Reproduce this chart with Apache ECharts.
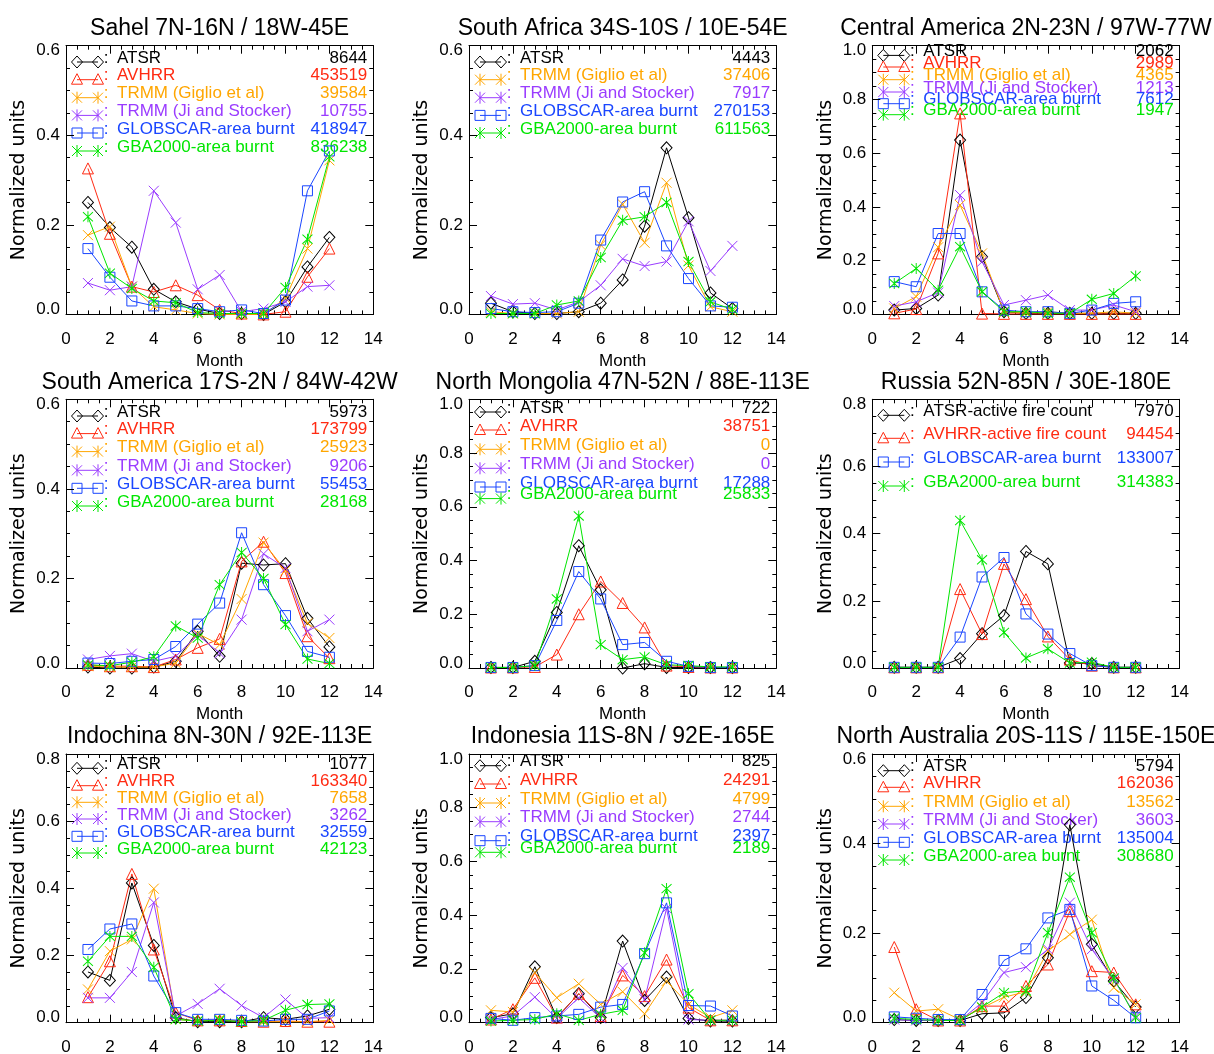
<!DOCTYPE html>
<html>
<head>
<meta charset="utf-8">
<script src="https://cdn.jsdelivr.net/npm/echarts@6/dist/echarts.min.js"></script>
<style>
  html, body { margin: 0; padding: 0; background: #ffffff; }
  #chart { width: 1214px; height: 1054px; }
</style>
</head>
<body>
<div id="chart"></div>
<script>
// Months on the x axis
const MONTHS = [1, 2, 3, 4, 5, 6, 7, 8, 9, 10, 11, 12];

// Sahel 7N-16N / 18W-45E
const sahelATSR     = [0.250, 0.194, 0.150, 0.056, 0.028, 0.012, 0.002, 0.002, 0.000, 0.028, 0.106, 0.172];
const sahelAVHRR    = [0.326, 0.180, 0.062, 0.050, 0.065, 0.043, 0.010, 0.002, 0.000, 0.006, 0.084, 0.147];
const sahelTRMMG    = [0.177, 0.196, 0.062, 0.017, 0.010, 0.002, 0.000, 0.000, 0.000, 0.036, 0.147, 0.344];
const sahelTRMMJ    = [0.070, 0.054, 0.062, 0.276, 0.205, 0.056, 0.088, 0.006, 0.013, 0.028, 0.062, 0.065];
const sahelGLOBSCAR = [0.147, 0.083, 0.030, 0.019, 0.019, 0.013, 0.006, 0.010, 0.002, 0.032, 0.276, 0.365];
const sahelGBA      = [0.218, 0.092, 0.058, 0.030, 0.026, 0.004, 0.002, 0.002, 0.002, 0.060, 0.168, 0.352];
const sahelCounts   = [8644, 453519, 39584, 10755, 418947, 836238];

// South Africa 34S-10S / 10E-54E (no AVHRR)
const safATSR     = [0.025, 0.006, 0.002, 0.002, 0.006, 0.025, 0.077, 0.197, 0.372, 0.216, 0.048, 0.013];
const safTRMMG    = [0.006, 0.002, 0.002, 0.002, 0.006, 0.155, 0.246, 0.160, 0.294, 0.109, 0.017, 0.006];
const safTRMMJ    = [0.041, 0.023, 0.025, 0.010, 0.028, 0.065, 0.124, 0.108, 0.118, 0.208, 0.097, 0.153];
const safGLOBSCAR = [0.013, 0.006, 0.004, 0.006, 0.025, 0.166, 0.251, 0.274, 0.153, 0.080, 0.019, 0.016];
const safGBA      = [0.002, 0.002, 0.002, 0.021, 0.030, 0.127, 0.210, 0.218, 0.250, 0.118, 0.028, 0.011];
const safCounts   = [4443, 37406, 7917, 270153, 611563];

// Central America 2N-23N / 97W-77W
const camATSR     = [0.016, 0.022, 0.072, 0.649, 0.215, 0.010, 0.004, 0.004, 0.004, 0.004, 0.004, 0.004];
const camAVHRR    = [0.004, 0.020, 0.227, 0.748, 0.003, 0.002, 0.002, 0.002, 0.002, 0.002, 0.002, 0.002];
const camTRMMG    = [0.022, 0.066, 0.250, 0.407, 0.227, 0.010, 0.006, 0.010, 0.004, 0.004, 0.010, 0.004];
const camTRMMJ    = [0.031, 0.047, 0.081, 0.444, 0.196, 0.035, 0.053, 0.072, 0.016, 0.016, 0.035, 0.010];
const camGLOBSCAR = [0.122, 0.103, 0.301, 0.301, 0.084, 0.016, 0.010, 0.010, 0.004, 0.016, 0.041, 0.047];
const camGBA      = [0.115, 0.171, 0.090, 0.252, 0.084, 0.010, 0.010, 0.004, 0.004, 0.056, 0.078, 0.143];
const camCounts   = [2062, 2989, 4365, 1213, 7612, 1947];

// South America 17S-2N / 84W-42W
const samATSR     = [0.002, 0.000, 0.000, 0.002, 0.015, 0.082, 0.026, 0.234, 0.230, 0.233, 0.111, 0.047];
const samAVHRR    = [0.007, 0.004, 0.004, 0.002, 0.019, 0.045, 0.065, 0.238, 0.282, 0.212, 0.071, 0.022];
const samTRMMG    = [0.004, 0.002, 0.002, 0.002, 0.011, 0.077, 0.052, 0.154, 0.280, 0.218, 0.100, 0.067];
const samTRMMJ    = [0.019, 0.027, 0.032, 0.015, 0.026, 0.074, 0.033, 0.108, 0.255, 0.223, 0.082, 0.108];
const samGLOBSCAR = [0.011, 0.010, 0.015, 0.019, 0.048, 0.098, 0.145, 0.302, 0.186, 0.117, 0.037, 0.024];
const samGBA      = [0.007, 0.005, 0.013, 0.025, 0.094, 0.067, 0.186, 0.258, 0.200, 0.097, 0.020, 0.010];
const samCounts   = [5973, 173799, 25923, 9206, 55453, 28168];

// North Mongolia 47N-52N / 88E-113E (no TRMM detections)
const mngATSR     = [0.002, 0.002, 0.025, 0.207, 0.455, 0.291, 0.000, 0.016, 0.002, 0.002, 0.002, 0.002];
const mngAVHRR    = [0.002, 0.002, 0.004, 0.050, 0.200, 0.322, 0.242, 0.151, 0.009, 0.004, 0.002, 0.002];
const mngGLOBSCAR = [0.002, 0.002, 0.009, 0.177, 0.359, 0.257, 0.087, 0.095, 0.025, 0.006, 0.002, 0.002];
const mngGBA      = [0.002, 0.002, 0.009, 0.257, 0.566, 0.087, 0.031, 0.041, 0.012, 0.009, 0.004, 0.004];
const mngCounts   = [722, 38751, 0, 0, 17288, 25833];

// Russia 52N-85N / 30E-180E
const rusATSR     = [0.002, 0.002, 0.002, 0.028, 0.102, 0.156, 0.347, 0.310, 0.015, 0.013, 0.002, 0.002];
const rusAVHRR    = [0.002, 0.002, 0.002, 0.235, 0.101, 0.310, 0.205, 0.094, 0.025, 0.007, 0.002, 0.002];
const rusGLOBSCAR = [0.002, 0.002, 0.002, 0.092, 0.271, 0.329, 0.161, 0.101, 0.043, 0.007, 0.002, 0.002];
const rusGBA      = [0.002, 0.002, 0.002, 0.439, 0.322, 0.106, 0.030, 0.057, 0.015, 0.017, 0.002, 0.002];
const rusCounts   = [7970, 94454, 133007, 314383];

// Indochina 8N-30N / 92E-113E
const indATSR     = [0.151, 0.126, 0.416, 0.230, 0.015, 0.003, 0.003, 0.003, 0.015, 0.010, 0.020, 0.040];
const indAVHRR    = [0.076, 0.183, 0.443, 0.218, 0.030, 0.007, 0.007, 0.005, 0.003, 0.005, 0.003, 0.003];
const indTRMMG    = [0.099, 0.213, 0.248, 0.399, 0.010, 0.005, 0.010, 0.003, 0.003, 0.003, 0.003, 0.007];
const indTRMMJ    = [0.074, 0.074, 0.151, 0.358, 0.020, 0.056, 0.101, 0.051, 0.015, 0.069, 0.013, 0.015];
const indGLOBSCAR = [0.218, 0.279, 0.294, 0.139, 0.030, 0.010, 0.010, 0.007, 0.005, 0.010, 0.010, 0.035];
const indGBA      = [0.183, 0.257, 0.257, 0.165, 0.010, 0.005, 0.007, 0.003, 0.007, 0.037, 0.054, 0.056];
const indCounts   = [1077, 163340, 7658, 3262, 32559, 42123];

// Indonesia 11S-8N / 92E-165E
const idnATSR     = [0.019, 0.033, 0.208, 0.019, 0.108, 0.019, 0.304, 0.083, 0.170, 0.016, 0.006, 0.006];
const idnAVHRR    = [0.012, 0.050, 0.167, 0.019, 0.108, 0.025, 0.176, 0.099, 0.235, 0.056, 0.009, 0.009];
const idnTRMMG    = [0.046, 0.040, 0.186, 0.093, 0.145, 0.068, 0.115, 0.033, 0.155, 0.068, 0.019, 0.046];
const idnTRMMJ    = [0.012, 0.025, 0.095, 0.016, 0.093, 0.016, 0.204, 0.087, 0.425, 0.012, 0.009, 0.009];
const idnGLOBSCAR = [0.016, 0.009, 0.019, 0.025, 0.031, 0.058, 0.068, 0.257, 0.446, 0.064, 0.062, 0.025];
const idnGBA      = [0.006, 0.009, 0.012, 0.033, 0.009, 0.031, 0.046, 0.260, 0.499, 0.108, 0.009, 0.009];
const idnCounts   = [825, 24291, 4799, 2744, 2397, 2189];

// North Australia 20S-11S / 115E-150E
const nauATSR     = [0.007, 0.005, 0.005, 0.005, 0.020, 0.022, 0.056, 0.145, 0.442, 0.175, 0.093, 0.035];
const nauAVHRR    = [0.169, 0.030, 0.005, 0.005, 0.037, 0.037, 0.082, 0.130, 0.249, 0.115, 0.112, 0.041];
const nauTRMMG    = [0.067, 0.026, 0.030, 0.007, 0.033, 0.057, 0.069, 0.160, 0.197, 0.230, 0.078, 0.041];
const nauTRMMJ    = [0.007, 0.005, 0.005, 0.005, 0.045, 0.112, 0.124, 0.164, 0.268, 0.164, 0.097, 0.015];
const nauGLOBSCAR = [0.013, 0.010, 0.007, 0.007, 0.063, 0.139, 0.165, 0.234, 0.253, 0.082, 0.050, 0.011];
const nauGBA      = [0.010, 0.007, 0.005, 0.005, 0.035, 0.067, 0.071, 0.201, 0.325, 0.201, 0.100, 0.011];
const nauCounts   = [5794, 162036, 13562, 3603, 135004, 308680];

// Region titles and y-axis upper limits
const regionTitles = [
  'Sahel 7N-16N / 18W-45E',
  'South Africa 34S-10S / 10E-54E',
  'Central America 2N-23N / 97W-77W',
  'South America 17S-2N / 84W-42W',
  'North Mongolia 47N-52N / 88E-113E',
  'Russia 52N-85N / 30E-180E',
  'Indochina 8N-30N / 92E-113E',
  'Indonesia 11S-8N / 92E-165E',
  'North Australia 20S-11S / 115E-150E'
];
const yMaxima = [0.6, 0.6, 1.0, 0.6, 1.0, 0.8, 0.8, 1.0, 0.6];
const xTickValues = [0, 14, 2]; // min, max, step

// Data sources: colour and marker style
const SOURCES = {
  ATSR:     { label: 'ATSR',                  color: '#000000', mark: 'diamond',  legendMark: 'diamond' },
  AVHRR:    { label: 'AVHRR',                 color: '#ff2a12', mark: 'triangle', legendMark: 'triangle' },
  TRMMG:    { label: 'TRMM (Giglio et al)',   color: '#ffa600', mark: 'cross',    legendMark: 'asterisk' },
  TRMMJ:    { label: 'TRMM (Ji and Stocker)', color: '#9a3cff', mark: 'cross',    legendMark: 'asterisk' },
  GLOBSCAR: { label: 'GLOBSCAR-area burnt',   color: '#1a46ff', mark: 'square',   legendMark: 'square' },
  GBA:      { label: 'GBA2000-area burnt',    color: '#00e600', mark: 'asterisk', legendMark: 'asterisk' },
  ATSRfire: { label: 'ATSR-active fire count',  color: '#000000', mark: 'diamond',  legendMark: 'diamond' },
  AVHRRfire:{ label: 'AVHRR-active fire count', color: '#ff2a12', mark: 'triangle', legendMark: 'triangle' }
};

const ALL6 = ['ATSR', 'AVHRR', 'TRMMG', 'TRMMJ', 'GLOBSCAR', 'GBA'];
const panels = [
  { keys: ALL6, values: [sahelATSR, sahelAVHRR, sahelTRMMG, sahelTRMMJ, sahelGLOBSCAR, sahelGBA], counts: sahelCounts },
  { keys: ['ATSR', 'TRMMG', 'TRMMJ', 'GLOBSCAR', 'GBA'], values: [safATSR, safTRMMG, safTRMMJ, safGLOBSCAR, safGBA], counts: safCounts },
  { keys: ALL6, values: [camATSR, camAVHRR, camTRMMG, camTRMMJ, camGLOBSCAR, camGBA], counts: camCounts },
  { keys: ALL6, values: [samATSR, samAVHRR, samTRMMG, samTRMMJ, samGLOBSCAR, samGBA], counts: samCounts },
  { keys: ALL6, values: [mngATSR, mngAVHRR, null, null, mngGLOBSCAR, mngGBA], counts: mngCounts },
  { keys: ['ATSRfire', 'AVHRRfire', 'GLOBSCAR', 'GBA'], values: [rusATSR, rusAVHRR, rusGLOBSCAR, rusGBA], counts: rusCounts },
  { keys: ALL6, values: [indATSR, indAVHRR, indTRMMG, indTRMMJ, indGLOBSCAR, indGBA], counts: indCounts },
  { keys: ALL6, values: [idnATSR, idnAVHRR, idnTRMMG, idnTRMMJ, idnGLOBSCAR, idnGBA], counts: idnCounts },
  { keys: ALL6, values: [nauATSR, nauAVHRR, nauTRMMG, nauTRMMJ, nauGLOBSCAR, nauGBA], counts: nauCounts }
];

// ---- layout ----
const FONT = '"Liberation Sans", Arial, sans-serif';
const NAME_FONT = '"DejaVu Sans", sans-serif';
const COL_LEFT = [66, 469, 872.3];
const ROW_TOP = [45.7, 399.3, 754];
const PLOT_W = 307.3;
const PLOT_H = 268.7;
// vertical offsets (from plot top) of each legend row's text centre
const LEGEND_ROWS = [
  [12.3, 30, 48, 65.7, 83.3, 101.3],
  [12.3, 30, 48, 65.7, 83.3],
  [5.7, 17.3, 30, 42.3, 54, 65],
  [12.7, 30.3, 48.3, 67, 85, 102.7],
  [8.7, 26.7, 46, 65, 83.7, 95.3],
  [12, 35, 58.7, 82.7],
  [10.3, 27.7, 44.3, 61, 78.3, 95],
  [7.7, 26, 45, 63.7, 82.7, 94.3],
  [12.7, 29.3, 48.3, 66, 84.3, 102]
];
const MARK_DY = 4;

const SERIES_SYMBOL = {
  diamond: { symbol: 'diamond', size: [11, 12] },
  triangle: { symbol: 'triangle', size: [11, 11] },
  square: { symbol: 'rect', size: [10, 10] },
  cross: { symbol: 'path://M0,0L10,10M10,0L0,10', size: [10, 10] },
  asterisk: { symbol: 'path://M0,0L10,10M10,0L0,10M5,-1L5,11', size: [10, 11] }
};

function seg(x1, y1, x2, y2, color) {
  return { type: 'line', silent: true, shape: { x1, y1, x2, y2 }, style: { stroke: color, lineWidth: 1 } };
}

function legendMarker(kind, cx, cy, color) {
  const st = { stroke: color, fill: 'none', lineWidth: 1 };
  switch (kind) {
    case 'diamond':
      return { type: 'polygon', silent: true, shape: { points: [[cx, cy - 6], [cx + 5.5, cy], [cx, cy + 6], [cx - 5.5, cy]] }, style: st };
    case 'triangle':
      return { type: 'polygon', silent: true, shape: { points: [[cx, cy - 6], [cx + 5.5, cy + 4.5], [cx - 5.5, cy + 4.5]] }, style: st };
    case 'square':
      return { type: 'rect', silent: true, shape: { x: cx - 5, y: cy - 5, width: 10, height: 10 }, style: st };
    case 'asterisk':
    default:
      return {
        type: 'group', silent: true, children: [
          seg(cx - 5, cy - 5, cx + 5, cy + 5, color),
          seg(cx + 5, cy - 5, cx - 5, cy + 5, color),
          seg(cx, cy - 6, cx, cy + 6, color)
        ]
      };
  }
}

const grid = [], xAxis = [], yAxis = [], series = [], graphic = [];
const blackLine = { color: '#000000', width: 1 };

panels.forEach((p, i) => {
  const left = COL_LEFT[i % 3];
  const top = ROW_TOP[Math.floor(i / 3)];
  const yMax = yMaxima[i];
  grid.push({ left, top, width: PLOT_W, height: PLOT_H, containLabel: false, outerBoundsMode: 'none' });

  const xCommon = {
    type: 'value', gridIndex: i, min: xTickValues[0], max: xTickValues[1], interval: xTickValues[2],
    axisLine: { show: true, onZero: false, lineStyle: blackLine },
    axisTick: { show: true, inside: true, length: 8, lineStyle: blackLine },
    minorTick: { show: true, splitNumber: 4, length: 4, lineStyle: blackLine },
    splitLine: { show: false }, minorSplitLine: { show: false }, silent: true
  };
  xAxis.push(Object.assign({}, xCommon, {
    position: 'bottom',
    name: 'Month', nameLocation: 'middle', nameGap: 38,
    nameTextStyle: { fontFamily: FONT, fontSize: 17, color: '#000' },
    axisLabel: { show: true, margin: 16, fontFamily: FONT, fontSize: 17, color: '#000' }
  }));
  xAxis.push(Object.assign({}, xCommon, { position: 'top', axisLabel: { show: false } }));

  const yCommon = {
    type: 'value', gridIndex: i, min: 0, max: yMax, interval: 0.2,
    axisLine: { show: true, onZero: false, lineStyle: blackLine },
    axisTick: { show: true, inside: true, length: 8, lineStyle: blackLine },
    minorTick: { show: true, splitNumber: 4, length: 4, lineStyle: blackLine },
    splitLine: { show: false }, minorSplitLine: { show: false }, silent: true
  };
  yAxis.push(Object.assign({}, yCommon, {
    position: 'left',
    name: 'Normalized units', nameLocation: 'middle', nameGap: 37,
    nameTextStyle: { fontFamily: NAME_FONT, fontSize: 19, color: '#000' },
    axisLabel: {
      show: true, margin: 6, fontFamily: FONT, fontSize: 17, color: '#000', lineHeight: 10,
      formatter: v => v.toFixed(1),
      verticalAlignMinLabel: 'bottom', verticalAlignMaxLabel: 'top'
    }
  }));
  yAxis.push(Object.assign({}, yCommon, { position: 'right', axisLabel: { show: false } }));

  // data series
  p.keys.forEach((k, j) => {
    const vals = p.values[j];
    if (!vals) return;
    const src = SOURCES[k];
    const sym = SERIES_SYMBOL[src.mark];
    series.push({
      type: 'line', name: src.label,
      xAxisIndex: 2 * i, yAxisIndex: 2 * i,
      data: MONTHS.map((m, t) => [m, vals[t]]),
      symbol: sym.symbol, symbolSize: sym.size, showSymbol: true, showAllSymbol: true,
      clip: false, silent: true, animation: false,
      lineStyle: { color: src.color, width: 1 },
      itemStyle: { color: 'rgba(0,0,0,0)', borderColor: src.color, borderWidth: 1 },
      emphasis: { disabled: true }
    });
  });

  // panel title
  graphic.push({
    type: 'text', silent: true, x: left + PLOT_W / 2, y: top - 17,
    style: { text: regionTitles[i], fill: '#000', font: '23px ' + FONT, align: 'center', verticalAlign: 'middle' }
  });

  // legend block
  p.keys.forEach((k, j) => {
    const src = SOURCES[k];
    const ty = top + LEGEND_ROWS[i][j];
    const my = ty + MARK_DY;
    const x1 = left + 11, x2 = left + 32;
    graphic.push(seg(x1, my, x2, my, src.color));
    graphic.push(legendMarker(src.legendMark, x1, my, src.color));
    graphic.push(legendMarker(src.legendMark, x2, my, src.color));
    graphic.push({
      type: 'text', silent: true, x: left + 40, y: ty,
      style: { text: ':', fill: src.color, font: '17px ' + FONT, align: 'center', verticalAlign: 'middle' }
    });
    graphic.push({
      type: 'text', silent: true, x: left + 51, y: ty,
      style: { text: src.label, fill: src.color, font: '17px ' + FONT, align: 'left', verticalAlign: 'middle' }
    });
    graphic.push({
      type: 'text', silent: true, x: left + PLOT_W - 6, y: ty,
      style: { text: String(p.counts[j]), fill: src.color, font: '17px ' + FONT, align: 'right', verticalAlign: 'middle' }
    });
  });
});

const chart = echarts.init(document.getElementById('chart'), null, { renderer: 'canvas' });
chart.setOption({
  backgroundColor: '#ffffff',
  animation: false,
  textStyle: { fontFamily: FONT },
  grid, xAxis, yAxis, series, graphic
});
</script>
</body>
</html>
